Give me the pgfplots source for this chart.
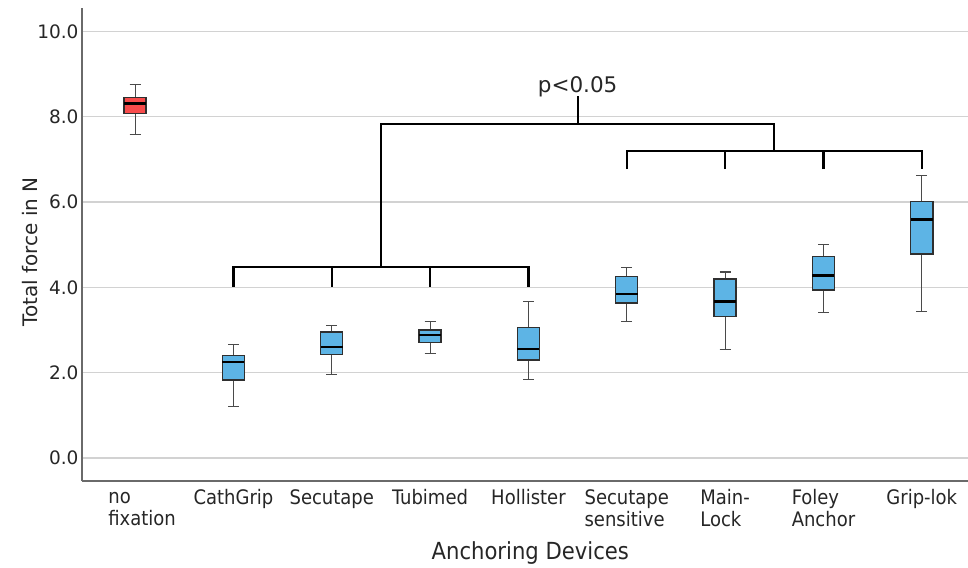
\documentclass[border=0pt]{standalone}
\usepackage{fontspec}
\setmainfont{DejaVu Sans}
\newfontfamily\cond{DejaVu Sans Condensed}
\usepackage{pgfplots}
\pgfplotsset{compat=1.18}
\usepgfplotslibrary{statistics}
\definecolor{redfill}{HTML}{F84C4C}
\definecolor{bluefill}{HTML}{5DB4E5}
\definecolor{boxborder}{HTML}{2F2F2F}
\definecolor{whisk}{HTML}{4A4A4A}
\definecolor{gridc}{HTML}{D2D2D2}
\definecolor{axisc}{HTML}{6A6A6A}
\begin{document}
\begin{tikzpicture}
\useasboundingbox (-82pt,-86pt) rectangle (886pt,481pt);
\begin{axis}[
  scale only axis,
  width=886pt, height=473pt,
  xmin=-0.54, xmax=8.47,
  ymin=-0.54, ymax=10.55,
  axis x line*=bottom, axis y line*=left,
  axis line style={draw=axisc, line width=1.6pt, -},
  ytick={0,2,4,6,8,10},
  xtick={0,1,2,3,4,5,6,7,8},
  xticklabels={{\strut\hspace*{14pt}no\\\hspace*{14pt}fixation},\strut CathGrip,\strut Secutape,\strut Tubimed,\strut Hollister,{\strut Secutape\\sensitive},{\strut Main-\\Lock},{\strut Foley\\Anchor},\strut Grip-lok},
  major tick length=0pt,
  ymajorgrids,
  grid style={draw=gridc, line width=1.3pt},
  /pgf/number format/assume math mode=true,
  yticklabel={\pgfmathprintnumber[fixed,fixed zerofill,precision=1]{\tick}},
  yticklabel style={font=\fontsize{18.5}{20}\selectfont, text=black!85, xshift=0pt},
  xticklabel style={font=\cond\fontsize{20}{19.5}\selectfont, align=left, anchor=north, text=black!85, yshift=-5pt},
  ylabel={Total force in N},
  xlabel={Anchoring Devices},
  every axis y label/.style={at={(axis description cs:0,0.484)}, xshift=-52pt, rotate=90, anchor=center, font=\fontsize{20}{22}\selectfont, text=black!85},
  every axis x label/.style={at={(axis description cs:0.506,0)}, yshift=-72pt, anchor=center, font=\cond\fontsize{23.5}{24}\selectfont, text=black!85},
  clip=false,
  boxplot/draw direction=y,
  boxplot/box extend=0.224,
  boxplot/whisker extend=0.11,
  boxplot/every box/.style={draw=boxborder, line width=1.4pt},
  boxplot/every whisker/.style={draw=whisk, line width=1.1pt},
  boxplot/every median/.style={draw=black, line width=2.4pt},
]
% boxes
\addplot[draw=boxborder, fill=redfill, line width=1.4pt, boxplot prepared={draw position=0, lower whisker=7.58, lower quartile=8.08, median=8.31, upper quartile=8.45, upper whisker=8.76}] coordinates {};
\addplot[draw=boxborder, fill=bluefill, line width=1.4pt, boxplot prepared={draw position=1, lower whisker=1.21, lower quartile=1.83, median=2.25, upper quartile=2.40, upper whisker=2.66}] coordinates {};
\addplot[draw=boxborder, fill=bluefill, line width=1.4pt, boxplot prepared={draw position=2, lower whisker=1.95, lower quartile=2.42, median=2.60, upper quartile=2.95, upper whisker=3.11}] coordinates {};
\addplot[draw=boxborder, fill=bluefill, line width=1.4pt, boxplot prepared={draw position=3, lower whisker=2.44, lower quartile=2.71, median=2.88, upper quartile=3.00, upper whisker=3.20}] coordinates {};
\addplot[draw=boxborder, fill=bluefill, line width=1.4pt, boxplot prepared={draw position=4, lower whisker=1.83, lower quartile=2.30, median=2.56, upper quartile=3.06, upper whisker=3.66}] coordinates {};
\addplot[draw=boxborder, fill=bluefill, line width=1.4pt, boxplot prepared={draw position=5, lower whisker=3.19, lower quartile=3.63, median=3.85, upper quartile=4.25, upper whisker=4.46}] coordinates {};
\addplot[draw=boxborder, fill=bluefill, line width=1.4pt, boxplot prepared={draw position=6, lower whisker=2.54, lower quartile=3.31, median=3.67, upper quartile=4.20, upper whisker=4.36}] coordinates {};
\addplot[draw=boxborder, fill=bluefill, line width=1.4pt, boxplot prepared={draw position=7, lower whisker=3.41, lower quartile=3.94, median=4.28, upper quartile=4.73, upper whisker=5.00}] coordinates {};
\addplot[draw=boxborder, fill=bluefill, line width=1.4pt, boxplot prepared={draw position=8, lower whisker=3.44, lower quartile=4.78, median=5.59, upper quartile=6.02, upper whisker=6.63}] coordinates {};
% significance brackets
\addplot[black, line width=2.2pt, sharp plot, mark=none] coordinates {(1,4.02) (1,4.47) (4,4.47) (4,4.02)};
\addplot[black, line width=2.2pt, sharp plot, mark=none] coordinates {(2,4.02) (2,4.47)};
\addplot[black, line width=2.2pt, sharp plot, mark=none] coordinates {(3,4.02) (3,4.47)};
\addplot[black, line width=2.2pt, sharp plot, mark=none] coordinates {(5,6.77) (5,7.19) (8,7.19) (8,6.77)};
\addplot[black, line width=2.2pt, sharp plot, mark=none] coordinates {(6,6.77) (6,7.19)};
\addplot[black, line width=2.2pt, sharp plot, mark=none] coordinates {(7,6.77) (7,7.19)};
\addplot[black, line width=2.2pt, sharp plot, mark=none] coordinates {(2.5,4.47) (2.5,7.83) (6.5,7.83) (6.5,7.19)};
\addplot[black, line width=2.2pt, sharp plot, mark=none] coordinates {(4.5,7.83) (4.5,8.48)};
\node[anchor=base, font=\fontsize{21.5}{22}\selectfont, text=black!85] at (axis cs:4.5,8.57) {p<0.05};
\end{axis}
\end{tikzpicture}
\end{document}
